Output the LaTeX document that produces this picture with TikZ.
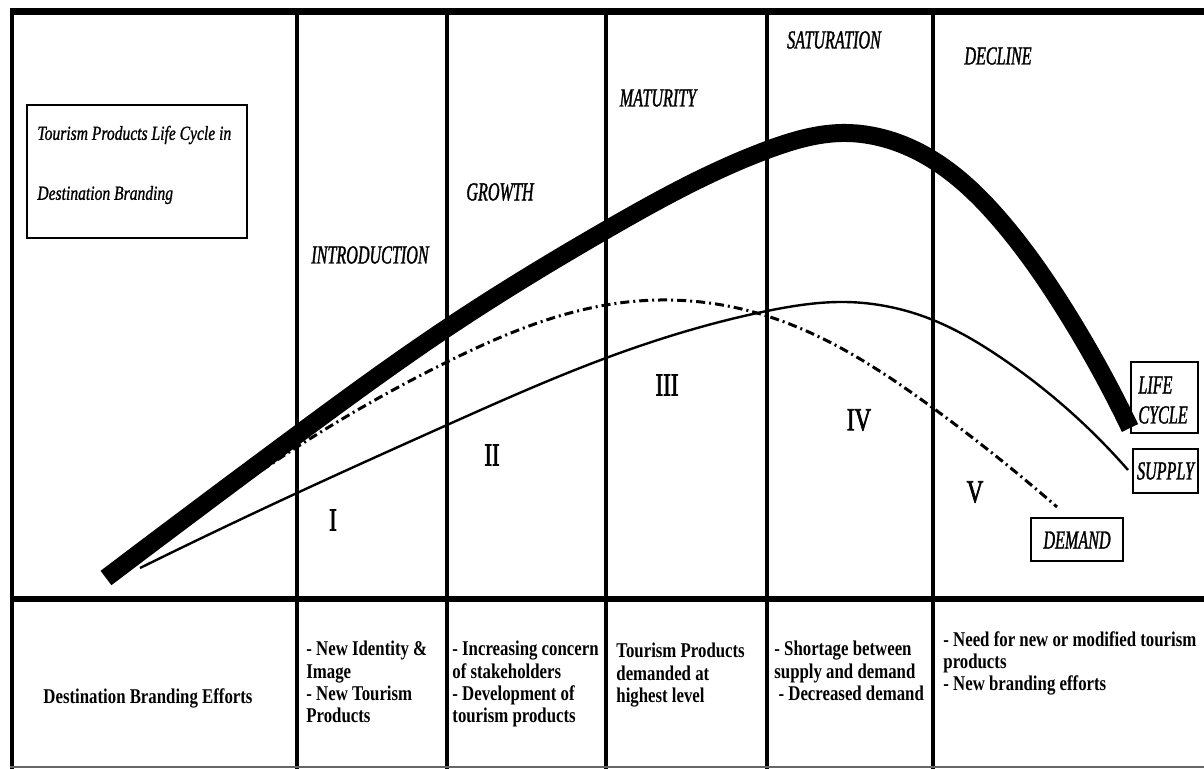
\documentclass[tikz,border=0pt]{standalone}
\usepackage{fontspec}
\usetikzlibrary{hobby}
\setmainfont{Liberation Serif}
\newfontfamily\labfont{Liberation Serif}[FakeStretch=0.62, FakeBold=1.2]
\newfontfamily\titfont{Liberation Serif}[FakeStretch=0.78, FakeBold=1]
\newfontfamily\romfont{Liberation Serif}[FakeStretch=0.72, FakeBold=2]
\newfontfamily\botfont{Liberation Serif}[FakeStretch=0.8]
\begin{document}
\begin{tikzpicture}[x=0.5pt,y=-0.5pt,
  gridline/.style={line width=2pt, line cap=rect},
  phase/.style={font=\labfont\itshape\fontsize{13}{15}\selectfont, inner sep=0pt, anchor=center},
  keylab/.style={font=\labfont\itshape\fontsize{13}{15}\selectfont, inner sep=0pt, align=left},
  roman/.style={font=\romfont\fontsize{16}{18}\selectfont, inner sep=0pt, anchor=center},
  titletext/.style={font=\titfont\itshape\fontsize{10}{12}\selectfont, inner sep=0pt, anchor=west},
  cell/.style={font=\botfont\bfseries\fontsize{10.5}{11.1}\selectfont, inner sep=0pt, anchor=north west, align=left},
  boxline/.style={line width=0.7pt},
  thick curve/.style={line width=9pt, line cap=butt, line join=round},
  supply curve/.style={line width=1.2pt},
  demand curve/.style={line width=1.5pt, dash pattern=on 4.5pt off 2pt on 1pt off 2pt}
]
\useasboundingbox (0,0) rectangle (1204,769);
\fill[white] (0,0) rectangle (1204,769);

% frame and grid
\draw[line width=3.5pt] (10,12) -- (1204,12);
\draw[gridline] (12,12) -- (12,769);
\foreach \xx in {297,447,606,767,933}
  \draw[gridline] (\xx,12) -- (\xx,769);
\draw[line width=3pt] (10,599) -- (1204,599);
\draw[line width=0.8pt, black!60] (10,767) -- (1204,767);

% title box
\draw[boxline] (27,105) rectangle (247,238);
\node[titletext] (t1) at (37,135) {Tourism Products Life Cycle in};
\node[titletext] (t2) at (37,195) {Destination Branding};

% phase labels
\node[phase] (intro) at (370,255) {INTRODUCTION};
\node[phase] (growth) at (500,192) {GROWTH};
\node[phase] (matur) at (658,98) {MATURITY};
\node[phase] (satur) at (834,40) {SATURATION};
\node[phase] (decl) at (998,56) {DECLINE};

% curves
\draw[demand curve, use Hobby shortcut] (200,515) .. (297,447) .. (447,362) .. (606,305) .. (660,300) .. (767,316) .. (933,408) .. (1057,507);
\draw[supply curve, use Hobby shortcut] (140,568) .. (297,493) .. (447,425) .. (606,358) .. (767,311) .. (845,302) .. (933,320) .. (1000,357) .. (1128,470);
\draw[thick curve, use Hobby shortcut] (106,578) .. (297,435) .. (447,328) .. (606,230) .. (767,150) .. (842,133) .. (933,160) .. (1000,220) .. (1065,310) .. (1130,428);

% roman numerals
\node[roman] (r1) at (333,520) {I};
\node[roman] (r2) at (492,455) {II};
\node[roman] (r3) at (667,385) {III};
\node[roman] (r4) at (859,420) {IV};
\node[roman] (r5) at (975,492) {V};

% key boxes
\draw[boxline] (1131,362) rectangle (1198,433);
\node[keylab, anchor=west] (lc1) at (1138,385) {LIFE};
\node[keylab, anchor=west] (lc2) at (1138,415) {CYCLE};
\draw[boxline] (1133,449) rectangle (1198,493);
\node[keylab, anchor=center] (sup) at (1165.5,471) {SUPPLY};
\draw[boxline] (1031,518) rectangle (1123,561);
\node[keylab, anchor=center] (dem) at (1077,540) {DEMAND};

% bottom row
\node[cell, anchor=center] (efforts) at (148,698) {Destination Branding Efforts};
\node[cell] (c1) at (306,641) {- New Identity \&\\Image\\- New Tourism\\Products};
\node[cell] (c2) at (452,641) {- Increasing concern\\of stakeholders\\- Development of\\tourism products};
\node[cell] (c3) at (616,643) {Tourism Products\\demanded at\\highest level};
\node[cell] (c4) at (774,641) {- Shortage between\\supply and demand\\\ - Decreased demand};
\node[cell] (c5) at (943,631) {- Need for new or modified tourism\\products\\- New branding efforts};
\end{tikzpicture}
\end{document}
